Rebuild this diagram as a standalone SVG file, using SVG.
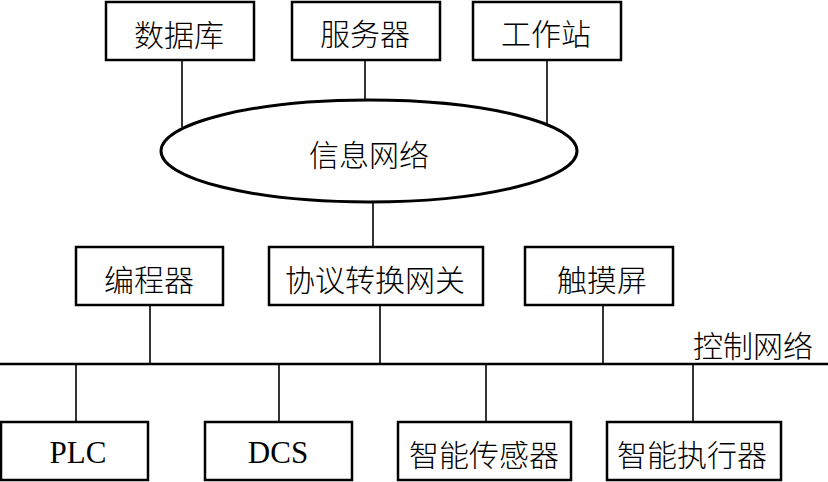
<svg xmlns="http://www.w3.org/2000/svg" width="828" height="482" viewBox="0 0 828 482">
<style>
.box{fill:#fff;stroke:#000;stroke-width:2.5}
.ell{fill:#fff;stroke:#000;stroke-width:3}
.ln{stroke:#000;stroke-width:1.6;fill:none}
.bus{stroke:#000;stroke-width:2.4;fill:none}
.t{font-family:"Noto Sans CJK SC","Liberation Sans",sans-serif;font-size:30px;font-weight:300;text-anchor:middle;dominant-baseline:central;fill:#000}
.s{font-family:"Liberation Serif",serif;font-size:31px;text-anchor:middle;dominant-baseline:central;fill:#000}
</style>
<rect width="828" height="482" fill="#fff"/>
<g id="connectors">
<line class="ln" x1="182" y1="60" x2="182" y2="127"/>
<line class="ln" x1="365" y1="60" x2="365" y2="101"/>
<line class="ln" x1="547" y1="60" x2="547" y2="126"/>
<line class="ln" x1="373" y1="201" x2="373" y2="248"/>
<line class="ln" x1="150" y1="305" x2="150" y2="364"/>
<line class="ln" x1="380" y1="305" x2="380" y2="364"/>
<line class="ln" x1="603" y1="305" x2="603" y2="364"/>
<line class="ln" x1="76" y1="364" x2="76" y2="423"/>
<line class="ln" x1="279" y1="364" x2="279" y2="423"/>
<line class="ln" x1="486" y1="364" x2="486" y2="423"/>
<line class="ln" x1="693" y1="364" x2="693" y2="423"/>
<line id="bus" class="bus" x1="0" y1="364" x2="828" y2="364"/>
<text class="t" x="753" y="344">控制网络</text>
</g>
<g id="db"><rect class="box" x="106" y="2" width="148" height="58"/><text class="t" x="179" y="33">数据库</text></g>
<g id="server"><rect class="box" x="292" y="2" width="148" height="58"/><text class="t" x="365" y="32">服务器</text></g>
<g id="ws"><rect class="box" x="473" y="2" width="148" height="58"/><text class="t" x="546" y="32">工作站</text></g>
<g id="infonet"><ellipse class="ell" cx="369" cy="151" rx="208" ry="51"/><text class="t" x="369" y="153">信息网络</text></g>
<g id="prog"><rect class="box" x="76" y="247" width="147" height="58"/><text class="t" x="149" y="278">编程器</text></g>
<g id="gw"><rect class="box" x="269" y="247" width="214" height="58"/><text class="t" x="375" y="278">协议转换网关</text></g>
<g id="touch"><rect class="box" x="525" y="247" width="148" height="58"/><text class="t" x="602" y="278">触摸屏</text></g>
<g id="plc"><rect class="box" x="1" y="422" width="147" height="58"/><text class="s" x="78" y="452">PLC</text></g>
<g id="dcs"><rect class="box" x="205" y="422" width="147" height="58"/><text class="s" x="278" y="452">DCS</text></g>
<g id="sensor"><rect class="box" x="398" y="422" width="173" height="58"/><text class="t" x="484" y="453">智能传感器</text></g>
<g id="actuator"><rect class="box" x="607" y="422" width="174" height="58"/><text class="t" x="692" y="453">智能执行器</text></g>
</svg>
